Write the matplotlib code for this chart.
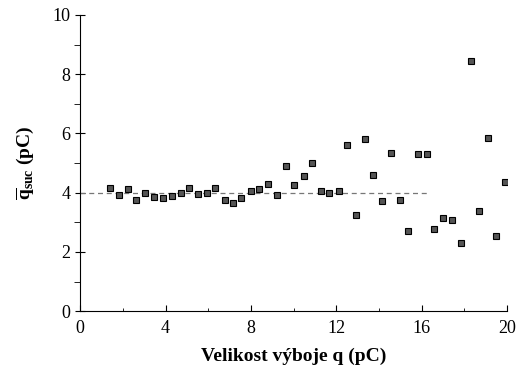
import matplotlib.pyplot as plt
from matplotlib.ticker import MultipleLocator

plt.rcParams['font.family'] = 'Liberation Serif'
plt.rcParams['mathtext.fontset'] = 'custom'
plt.rcParams['mathtext.rm'] = 'Liberation Serif'
plt.rcParams['mathtext.bf'] = 'Liberation Serif:bold'

# velikost vyboje q (pC)
q = [1.4, 1.83, 2.25, 2.62, 3.04, 3.47, 3.89, 4.3, 4.73, 5.1, 5.53, 5.95,
     6.32, 6.8, 7.17, 7.54, 8.0, 8.38, 8.8, 9.23, 9.65, 10.0, 10.5, 10.87,
     11.29, 11.66, 12.13, 12.5, 12.93, 13.35, 13.72, 14.15, 14.57, 14.99,
     15.36, 15.83, 16.25, 16.58, 17.0, 17.42, 17.85, 18.3, 18.69, 19.1,
     19.48, 19.9]
# stredni hodnota q_suc (pC)
q_suc = [4.16, 3.92, 4.12, 3.75, 3.99, 3.85, 3.82, 3.89, 3.99, 4.16, 3.95,
         3.99, 4.16, 3.75, 3.65, 3.82, 4.05, 4.12, 4.29, 3.92, 4.9, 4.26,
         4.56, 5.0, 4.05, 3.99, 4.05, 5.6, 3.24, 5.81, 4.59, 3.72, 5.34,
         3.75, 2.7, 5.3, 5.3, 2.77, 3.14, 3.07, 2.3, 8.45, 3.38, 5.84,
         2.53, 4.36]
level = 4.0
level_end = 16.4

fig = plt.figure(figsize=(5.17, 3.74), dpi=100)
ax = fig.add_axes([0.155, 0.168, 0.826, 0.792])

ax.plot([0, level_end], [level, level], color='#777777', lw=0.9,
        dashes=(4, 3))
ax.plot(q, q_suc, 's', ms=5, mfc='#555555', mec='black', mew=0.8,
        linestyle='none')

ax.set_xlim(0, 20)
ax.set_ylim(0, 10)
ax.xaxis.set_major_locator(MultipleLocator(4))
ax.xaxis.set_minor_locator(MultipleLocator(2))
ax.yaxis.set_major_locator(MultipleLocator(2))
ax.yaxis.set_minor_locator(MultipleLocator(1))
ax.tick_params(axis='x', which='major', direction='in', length=4,
               labelsize=13, pad=6)
ax.tick_params(axis='x', which='minor', direction='in', length=2)
ax.tick_params(axis='y', which='major', direction='inout', length=7,
               labelsize=13)
ax.tick_params(axis='y', which='minor', direction='out', length=4)

for s in ['top', 'right']:
    ax.spines[s].set_visible(False)

ax.set_xlabel('Velikost výboje q (pC)', fontsize=14, fontweight='bold',
              labelpad=8)
ax.set_ylabel(r'$\overline{\mathbf{q}}_{\mathbf{suc}}$ (pC)', fontsize=14,
              fontweight='bold', labelpad=12)

fig.savefig('out.png', dpi=100)
